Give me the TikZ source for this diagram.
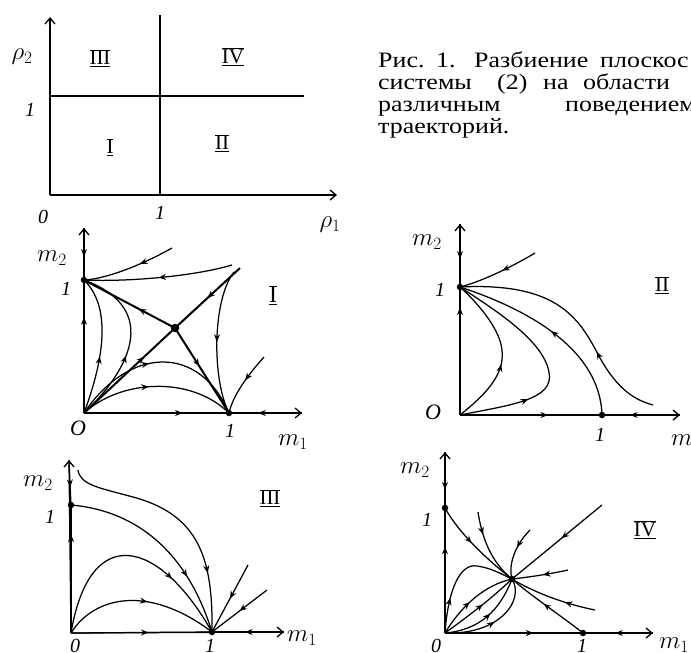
\documentclass[tikz,border=0pt]{standalone}
\usepackage{fontspec}
\setmainfont{Liberation Serif}
\usetikzlibrary{arrows.meta,decorations.markings}
\newcommand{\rnum}[1]{$\overline{\underline{\mathrm{#1}}}$}
\newcommand{\cw}[1]{\scalebox{1.18}[1]{#1}}
\tikzset{
  crv/.style={line width=1.25pt},
  thk/.style={line width=2pt},
  axs/.style={line width=1.3pt,-{Straight Barb[length=6pt,width=10pt,line width=1.3pt]}},
  am/.style={postaction={decorate,decoration={markings,mark=at position #1 with {\arrow{Stealth[length=7.5pt,width=6pt]}}}}},
  dot/.style={circle,fill,inner sep=0pt,minimum size=6.5pt},
  lab/.style={font=\fontsize{25}{25}\selectfont,inner sep=0pt},
  num/.style={font=\fontsize{20}{20}\selectfont\itshape,inner sep=0pt},
  rn/.style={font=\fontsize{21}{21}\selectfont,inner sep=0pt},
  captxt/.style={font=\fontsize{22}{22}\selectfont,anchor=base west,inner sep=0pt}
}
\begin{document}
\begin{tikzpicture}[x=1pt,y=-1pt]
\useasboundingbox (0,0) rectangle (691,653);

% ---------- caption ----------
\node[captxt] (c1a) at (378,67) {\cw{Рис.}};
\node[captxt] (c1b) at (436,67) {\cw{1.}};
\node[captxt] (c1c) at (474,67) {\cw{Разбиение}};
\node[captxt] (c1d) at (600,67) {\cw{плоскос}};
\node[captxt] (c2a) at (378,89) {\cw{системы}};
\node[captxt] (c2b) at (497,89) {\cw{(2)}};
\node[captxt] (c2c) at (543,89) {\cw{на}};
\node[captxt] (c2d) at (583,89) {\cw{области}};
\node[captxt] (c3a) at (378,111) {\cw{различным}};
\node[captxt] (c3b) at (565,111) {\cw{поведением}};
\node[captxt] (c4a) at (378,133) {\cw{траекторий.}};

% ---------- parameter plane ----------
\coordinate (P0) at (50,195);
\coordinate (PT) at (50,17);
\coordinate (PR) at (337,195);
\coordinate (V1) at (160,15);
\coordinate (V2) at (160,195);
\coordinate (H1) at (50,96);
\coordinate (H2) at (304,96);
\draw[axs] (P0) -- (PT);
\draw[axs] (P0) -- (PR);
\draw[crv] (V2) -- (V1);
\draw[crv] (H1) -- (H2);
\node[lab] (r2) at (22,57) {$\rho_2$};
\node[num] (p1y) at (30,110) {1};
\node[num] (p0) at (43,217) {0};
\node[num] (p1x) at (160,213) {1};
\node[lab] (r1) at (330,225) {$\rho_1$};
\node[rn] (rIII) at (100,58) {\rnum{III}};
\node[rn] (rIV) at (233,57) {\rnum{IV}};
\node[rn] (rI) at (110,147) {\rnum{I}};
\node[rn] (rII) at (222,143) {\rnum{II}};

% ---------- panel I ----------
\coordinate (O1) at (84,413);
\coordinate (A1) at (84,280);
\coordinate (B1) at (229,413);
\coordinate (S1) at (175,328);
\coordinate (T1) at (84,228);
\coordinate (R1) at (302,413);
\coordinate (E1) at (240,268);
\draw[axs] (O1) -- (T1);
\draw[axs] (O1) -- (R1);
\draw[crv,am=0.72] (O1) -- (A1);
\draw[crv,am=0.55] (T1) -- (A1);
\draw[crv,am=0.68] (O1) -- (B1);
\draw[crv,am=0.6] (R1) -- (B1);
\draw[thk,am=0.4] (S1) -- (A1);
\draw[thk,am=0.45] (S1) -- (B1);
\draw[thk,am=0.66] (O1) -- (S1);
\draw[thk,am=0.5] (E1) -- (S1);
\draw[crv,am=0.38] (172,248) .. controls (140,266) and (105,279) .. (A1);
\draw[crv,am=0.5] (232,265) .. controls (195,276) and (130,282) .. (A1);
\draw[crv,am=0.5] (234,272) .. controls (212,300) and (212,380) .. (B1);
\draw[crv,am=0.45] (264,357) .. controls (248,375) and (233,395) .. (B1);
\draw[crv,am=0.42] (O1) .. controls (100,370) and (115,310) .. (A1);
\draw[crv,am=0.42] (O1) .. controls (125,375) and (165,310) .. (A1);
\draw[crv,am=0.45] (O1) .. controls (130,345) and (200,345) .. (B1);
\draw[crv,am=0.45] (O1) .. controls (120,380) and (190,375) .. (B1);
\node[dot] (dA1) at (A1) {};
\node[dot] (dB1) at (B1) {};
\node[dot,minimum size=8.5pt] (dS1) at (S1) {};
\node[lab] (m21) at (52,258) {$m_2$};
\node[num] (o1y) at (66,289) {1};
\node[num,font=\fontsize{22}{22}\selectfont\itshape] (o1) at (78,428) {O};
\node[num] (o1x) at (230,431) {1};
\node[lab] (m11) at (293,442) {$m_1$};
\node[rn,font=\fontsize{24}{24}\selectfont] (lI) at (273,295) {$\underline{\overline{\mathrm{I}}}$};

% ---------- panel II ----------
\coordinate (O2) at (460,415);
\coordinate (A2) at (460,287);
\coordinate (B2) at (602,415);
\coordinate (T2) at (460,224);
\coordinate (R2) at (680,415);
\draw[axs] (O2) -- (T2);
\draw[axs] (O2) -- (R2);
\draw[thk,am=0.84] (O2) -- (A2);
\draw[crv,am=0.55] (T2) -- (A2);
\draw[crv,am=0.62] (O2) -- (B2);
\draw[crv,am=0.64] (R2) -- (B2);
\draw[crv,am=0.45] (535,253) .. controls (510,268) and (480,282) .. (A2);
\draw[crv,am=0.33] (653,405) .. controls (635,400) and (618,390) .. (600,358) .. controls (580,320) and (560,282) .. (A2);
\draw[crv,am=0.5] (B2) .. controls (600,350) and (530,310) .. (A2);
\draw[crv,am=0.3] (O2) .. controls (510,405) and (555,400) .. (549,372) .. controls (543,340) and (495,310) .. (A2);
\draw[crv,am=0.42] (O2) .. controls (485,395) and (505,375) .. (502,350) .. controls (500,330) and (480,305) .. (A2);
\node[dot] (dA2) at (A2) {};
\node[dot] (dB2) at (B2) {};
\node[lab] (m22) at (427,242) {$m_2$};
\node[num] (o2y) at (440,290) {1};
\node[num,font=\fontsize{22}{22}\selectfont\itshape] (o2) at (433,412) {O};
\node[num] (o2x) at (600,435) {1};
\node[lab] (m12) at (686,442) {$m_1$};
\node[rn] (lII) at (662,285) {\rnum{II}};

% ---------- panel III ----------
\coordinate (O3) at (71,633);
\coordinate (A3) at (71,505);
\coordinate (B3) at (212,632);
\coordinate (T3) at (69,460);
\coordinate (R3) at (284,632);
\draw[axs] (O3) -- (T3);
\draw[axs] (O3) -- (R3);
\draw[crv,am=0.77] (O3) -- (A3);
\draw[crv,am=0.6] (T3) -- (A3);
\draw[crv,am=0.55] (O3) -- (B3);
\draw[crv,am=0.54] (R3) -- (B3);
\draw[crv,am=0.75] (78,470) .. controls (80,485) and (100,488) .. (133,497) .. controls (200,515) and (213,560) .. (B3);
\draw[crv,am=0.7] (A3) .. controls (130,510) and (185,545) .. (B3);
\draw[crv,am=0.7] (O3) .. controls (90,520) and (160,540) .. (B3);
\draw[crv,am=0.55] (O3) .. controls (95,595) and (150,585) .. (B3);
\draw[crv,am=0.5] (248,565) -- (B3);
\draw[crv,am=0.5] (267,590) -- (B3);
\node[dot] (dA3) at (A3) {};
\node[dot] (dB3) at (B3) {};
\node[lab] (m23) at (38,483) {$m_2$};
\node[num] (o3y) at (50,517) {1};
\node[num] (o3) at (75,646) {0};
\node[num] (o3x) at (210,646) {1};
\node[lab] (m13) at (302,638) {$m_1$};
\node[rn] (lIII) at (270,498) {\rnum{III}};

% ---------- panel IV ----------
\coordinate (O4) at (445,633);
\coordinate (A4) at (445,508);
\coordinate (B4) at (583,633);
\coordinate (N4) at (512,579);
\coordinate (T4) at (445,452);
\coordinate (R4) at (653,633);
\draw[axs] (O4) -- (T4);
\draw[axs] (O4) -- (R4);
\draw[crv,am=0.69] (O4) -- (A4);
\draw[crv,am=0.67] (T4) -- (A4);
\draw[crv,am=0.64] (O4) -- (B4);
\draw[crv,am=0.54] (R4) -- (B4);
\draw[crv,am=0.45] (602,505) -- (N4);
\draw[crv,am=0.45] (A4) .. controls (460,535) and (490,562) .. (N4);
\draw[crv,am=0.3] (478,512) .. controls (483,545) and (495,565) .. (N4);
\draw[crv,am=0.4] (530,530) .. controls (515,545) and (508,565) .. (N4);
\draw[crv,am=0.45] (568,570) .. controls (550,574) and (530,577) .. (N4);
\draw[crv,am=0.35] (595,610) .. controls (560,603) and (530,590) .. (N4);
\draw[crv,am=0.55] (B4) .. controls (560,615) and (530,595) .. (N4);
\draw[crv,am=0.3] (O4) .. controls (448,590) and (460,563) .. (477,566) .. controls (492,568) and (503,575) .. (N4);
\draw[crv,am=0.45] (O4) .. controls (462,605) and (485,585) .. (N4);
\draw[crv,am=0.55] (O4) .. controls (470,615) and (492,598) .. (N4);
\draw[crv,am=0.55] (O4) .. controls (480,630) and (500,610) .. (N4);
\draw[crv,am=0.5] (O4) .. controls (500,635) and (525,600) .. (N4);
\node[dot] (dA4) at (A4) {};
\node[dot] (dB4) at (B4) {};
\node[dot] (dN4) at (N4) {};
\node[lab] (m24) at (415,470) {$m_2$};
\node[num] (o4y) at (427,520) {1};
\node[num] (o4) at (436,646) {0};
\node[num] (o4x) at (582,646) {1};
\node[lab] (m14) at (674,645) {$m_1$};
\node[rn] (lIV) at (645,530) {\rnum{IV}};
\end{tikzpicture}
\end{document}
